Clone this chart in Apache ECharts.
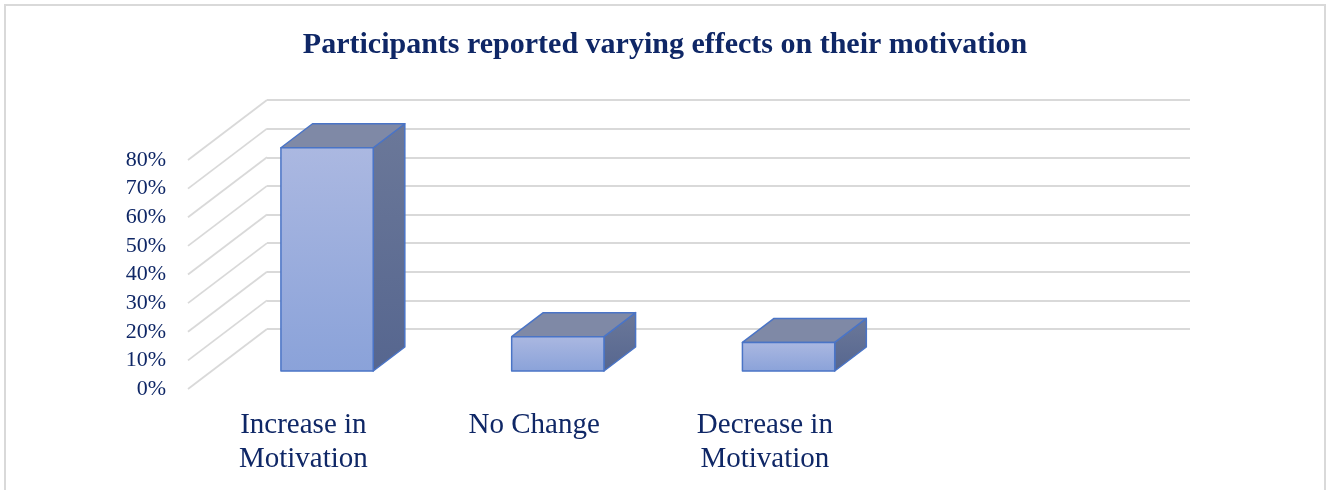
<!DOCTYPE html>
<html>
<head>
<meta charset="utf-8">
<script src="https://cdn.jsdelivr.net/npm/echarts@6/dist/echarts.min.js"></script>
<style>
  html, body { margin: 0; padding: 0; background: #fff; }
  #chart { width: 1330px; height: 490px; }
</style>
</head>
<body>
<div id="chart"></div>
<script>
// data
const categories = ['Increase in\nMotivation', 'No Change', 'Decrease in\nMotivation', ''];
const motivationPct = [78, 12, 10];
const yTicks = [0, 10, 20, 30, 40, 50, 60, 70, 80];

// fake 3d: depth vector from front plane to back wall
const DEPTH = [79, -60];
const NAVY = '#0f2766';
const FONT = '"Liberation Serif", "Times New Roman", serif';

const chart = echarts.init(document.getElementById('chart'));

function barItem(params, api) {
  const base = api.coord([api.value(0), 0]);
  const top = api.coord([api.value(0), api.value(1)]);
  const w = api.size([1, 0])[0] * 0.4;
  const t0 = 0.3, t1 = 0.7;
  const x0 = base[0] - w / 2 + DEPTH[0] * t0;
  const x1 = x0 + w;
  const yb = base[1] + DEPTH[1] * t0;
  const yt = top[1] + DEPTH[1] * t0;
  const dx = DEPTH[0] * (t1 - t0), dy = DEPTH[1] * (t1 - t0);
  const edge = { stroke: '#4a74c6', lineWidth: 1.5, lineJoin: 'round' };
  return {
    type: 'group',
    children: [
      {
        type: 'polygon',
        shape: { points: [[x1, yt], [x1 + dx, yt + dy], [x1 + dx, yb + dy], [x1, yb]] },
        style: Object.assign({
          fill: new echarts.graphic.LinearGradient(0, 0, 0, 1, [
            { offset: 0, color: '#6b7899' }, { offset: 1, color: '#56668f' }
          ])
        }, edge)
      },
      {
        type: 'polygon',
        shape: { points: [[x0, yt], [x1, yt], [x1 + dx, yt + dy], [x0 + dx, yt + dy]] },
        style: Object.assign({ fill: '#7f89a6' }, edge)
      },
      {
        type: 'rect',
        shape: { x: x0, y: yt, width: w, height: yb - yt },
        style: Object.assign({
          fill: new echarts.graphic.LinearGradient(0, 0, 0, 1, [
            { offset: 0, color: '#abb8e1' }, { offset: 1, color: '#8aa2d9' }
          ])
        }, edge)
      }
    ]
  };
}

function wallLine(params, api) {
  const p = api.coord([0, api.value(0)]);
  const x = params.coordSys.x;
  return {
    type: 'line',
    shape: { x1: x, y1: p[1], x2: x + DEPTH[0], y2: p[1] + DEPTH[1] },
    style: { stroke: '#d9d9d9', lineWidth: 1.8 }
  };
}

chart.setOption({
  backgroundColor: '#fff',
  animation: false,
  title: {
    text: 'Participants reported varying effects on their motivation',
    left: 'center',
    top: 25,
    textStyle: { fontFamily: FONT, fontSize: 30, fontWeight: 'bold', color: NAVY }
  },
  graphic: [{
    type: 'rect',
    shape: { x: 5, y: 5, width: 1320, height: 500 },
    style: { fill: 'none', stroke: '#d9d9d9', lineWidth: 2 },
    silent: true
  }],
  grid: [
    // back wall
    { left: 267, right: 140, top: 100, bottom: 161 },
    // front plane
    { left: 188, right: 219, top: 160, bottom: 101 }
  ],
  xAxis: [
    { type: 'category', gridIndex: 0, data: categories, axisLine: { show: false },
      axisTick: { show: false }, axisLabel: { show: false } },
    { type: 'category', gridIndex: 1, data: categories, axisLine: { show: false },
      axisTick: { show: false },
      axisLabel: { fontFamily: FONT, fontSize: 29, color: NAVY, lineHeight: 34, margin: 19, interval: 0 } }
  ],
  yAxis: [
    { type: 'value', gridIndex: 0, min: 0, max: 80, interval: 10,
      axisLabel: { show: false },
      splitLine: { lineStyle: { color: '#d9d9d9', width: 1.8 } } },
    { type: 'value', gridIndex: 1, min: 0, max: 80, interval: 10,
      splitLine: { show: false },
      axisLabel: { formatter: '{value}%', fontFamily: FONT, fontSize: 22, color: NAVY, margin: 22 } }
  ],
  series: [
    {
      type: 'custom', xAxisIndex: 1, yAxisIndex: 1,
      renderItem: wallLine,
      data: yTicks.map(v => [v]),
      silent: true
    },
    {
      type: 'custom', xAxisIndex: 1, yAxisIndex: 1,
      renderItem: barItem,
      data: motivationPct.map((v, i) => [i, v])
    }
  ]
});
</script>
</body>
</html>
